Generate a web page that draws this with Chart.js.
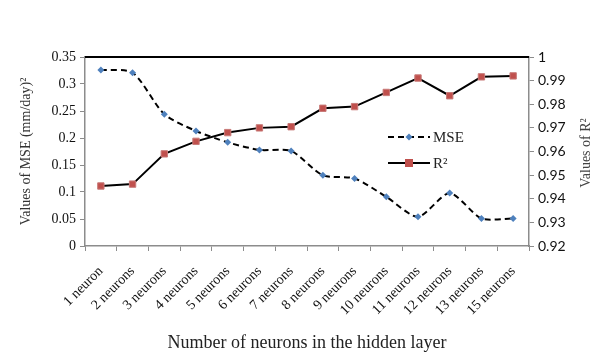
<!DOCTYPE html>
<html>
<head>
<meta charset="utf-8">
<script src="https://cdn.jsdelivr.net/npm/chart.js@4"></script>
<style>
  html, body { margin: 0; padding: 0; background: #fff; }
  #wrap { width: 616px; height: 358px; position: relative; }
</style>
</head>
<body>
<div id="wrap"><canvas id="chart" width="616" height="358"></canvas></div>
<script>
const categories = ["1 neuron", "2 neurons", "3 neurons", "4 neurons", "5 neurons", "6 neurons", "7 neurons",
  "8 neurons", "9 neurons", "10 neurons", "11 neurons", "12 neurons", "13 neurons", "15 neurons"];
const mseValues = [0.326, 0.321, 0.244, 0.213, 0.192, 0.178, 0.176, 0.131, 0.125, 0.091, 0.054, 0.098, 0.051, 0.051];
const r2Values = [0.9454, 0.9462, 0.959, 0.9643, 0.968, 0.970, 0.9705, 0.9783, 0.979, 0.985, 0.9911, 0.9836, 0.9916, 0.992];
const leftTicks = [0, 0.05, 0.1, 0.15, 0.2, 0.25, 0.3, 0.35];
const rightTicks = [0.92, 0.93, 0.94, 0.95, 0.96, 0.97, 0.98, 0.99, 1];

const serif = "'Liberation Serif', 'Times New Roman', serif";
const sans = "Lato, 'Open Sans', sans-serif";
const axisGray = '#8c8c8c';

// top frame line, right axis title (reads bottom-up like in Excel) and legend inside the plot
const extras = {
  id: 'extras',
  afterDraw(chart) {
    const { ctx, chartArea: a } = chart;
    ctx.save();
    ctx.strokeStyle = '#000';
    ctx.lineWidth = 2;
    ctx.beginPath();
    ctx.moveTo(a.left, a.top);
    ctx.lineTo(a.right, a.top);
    ctx.stroke();

    ctx.save();
    ctx.translate(586, 153);
    ctx.rotate(-Math.PI / 2);
    ctx.fillStyle = '#444';
    ctx.font = '14px ' + serif;
    ctx.textAlign = 'center';
    ctx.textBaseline = 'middle';
    ctx.fillText('Values of R²', 0, 0);
    ctx.restore();

    const items = [
      { label: 'MSE', y: 137, ds: chart.data.datasets[0] },
      { label: 'R²', y: 163, ds: chart.data.datasets[1] }
    ];
    const x0 = 388, x1 = 430;
    items.forEach(it => {
      ctx.strokeStyle = '#000';
      ctx.lineWidth = 2;
      ctx.setLineDash(it.ds.borderDash || []);
      ctx.beginPath();
      ctx.moveTo(x0, it.y);
      ctx.lineTo(x1, it.y);
      ctx.stroke();
      ctx.setLineDash([]);
      const mx = (x0 + x1) / 2;
      ctx.fillStyle = it.ds.pointBackgroundColor;
      if (it.ds.pointStyle === 'rectRot') {
        ctx.beginPath();
        ctx.moveTo(mx, it.y - 3.5);
        ctx.lineTo(mx + 3.5, it.y);
        ctx.lineTo(mx, it.y + 3.5);
        ctx.lineTo(mx - 3.5, it.y);
        ctx.closePath();
        ctx.fill();
      } else {
        ctx.fillRect(mx - 4, it.y - 4, 8, 8);
      }
      ctx.fillStyle = '#222';
      ctx.font = '15px ' + serif;
      ctx.textBaseline = 'middle';
      ctx.textAlign = 'left';
      ctx.fillText(it.label, x1 + 3, it.y + 1);
    });
    ctx.restore();
  }
};

new Chart(document.getElementById('chart'), {
  type: 'line',
  data: {
    labels: categories,
    datasets: [{
      label: 'MSE',
      data: mseValues,
      yAxisID: 'y',
      borderColor: '#000',
      borderWidth: 2,
      borderDash: [6, 4],
      tension: 0.25,
      pointStyle: 'rectRot',
      pointRadius: 3.5,
      pointBackgroundColor: '#4f81bd',
      pointBorderColor: '#4f81bd',
      pointBorderWidth: 0
    }, {
      label: 'R²',
      data: r2Values,
      yAxisID: 'y1',
      borderColor: '#000',
      borderWidth: 2,
      tension: 0,
      pointStyle: 'rect',
      pointRadius: 4.5,
      pointBackgroundColor: '#c0504d',
      pointBorderColor: '#c87a78',
      pointBorderWidth: 1
    }]
  },
  options: {
    responsive: false,
    animation: false,
    devicePixelRatio: 1,
    layout: { padding: { top: 57, left: 18, right: 0, bottom: 4 } },
    plugins: { legend: { display: false }, tooltip: { enabled: false } },
    scales: {
      x: {
        offset: true,
        grid: { offset: true, drawOnChartArea: false, color: axisGray, tickLength: 5 },
        border: { color: axisGray, width: 1.5 },
        ticks: {
          maxRotation: 45, minRotation: 45, autoSkip: false,
          color: '#111', font: { family: serif, size: 14 }, padding: 12
        },
        title: {
          display: true, text: 'Number of neurons in the hidden layer',
          color: '#222', font: { family: serif, size: 18 }, padding: 0
        },
        afterFit(s) { s.height = 108; }
      },
      y: {
        position: 'left',
        min: 0, max: 0.35,
        afterBuildTicks(s) { s.ticks = leftTicks.map(v => ({ value: v })); },
        grid: { drawOnChartArea: false, color: axisGray, tickLength: 5 },
        border: { color: axisGray, width: 1.5 },
        ticks: {
          color: '#111', font: { family: serif, size: 14 }, padding: 4,
          callback: v => String(+v.toFixed(2))
        },
        title: {
          display: true, text: 'Values of MSE (mm/day)²',
          color: '#333', font: { family: serif, size: 14 }, padding: 0
        },
        afterFit(s) { s.width = 67; }
      },
      y1: {
        position: 'right',
        min: 0.92, max: 1,
        afterBuildTicks(s) { s.ticks = rightTicks.map(v => ({ value: v })); },
        grid: { drawOnChartArea: false, color: axisGray, tickLength: 5 },
        border: { color: axisGray, width: 1.5 },
        ticks: {
          color: '#111', font: { family: sans, size: 14 }, padding: 4,
          callback: v => String(+v.toFixed(2))
        },
        afterFit(s) { s.width = 87; }
      }
    }
  },
  plugins: [extras]
});
</script>
</body>
</html>
